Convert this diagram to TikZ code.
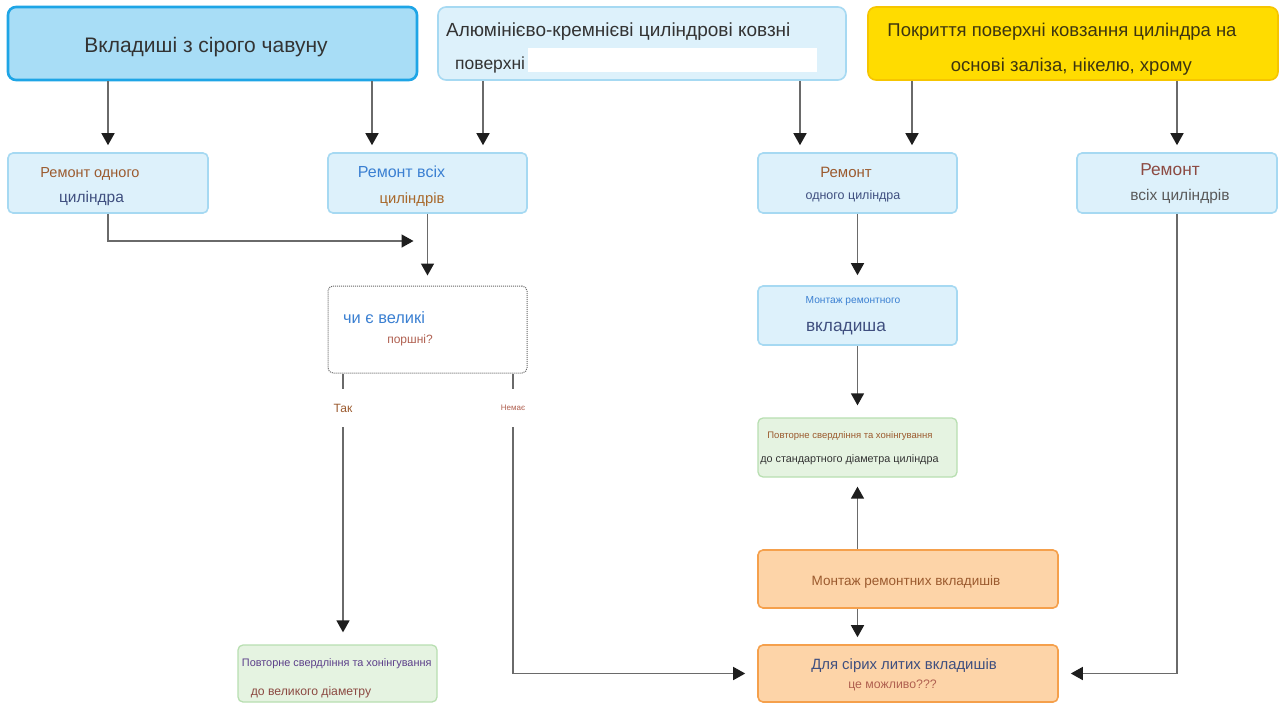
\documentclass[tikz,border=0pt]{standalone}
\usepackage{fontspec}
\setmainfont{Liberation Sans}
\usepackage{xcolor}
\usetikzlibrary{arrows.meta,positioning}

\definecolor{castfill}{HTML}{A8DDF6}
\definecolor{castline}{HTML}{1EA5E6}
\definecolor{lightfill}{HTML}{DDF1FB}
\definecolor{lightline}{HTML}{A6D9F2}
\definecolor{coatfill}{HTML}{FFDC00}
\definecolor{coatline}{HTML}{F6C500}
\definecolor{greenfill}{HTML}{E5F3E1}
\definecolor{greenline}{HTML}{B8DFB1}
\definecolor{orfill}{HTML}{FDD4A8}
\definecolor{orline}{HTML}{F5A04C}
\definecolor{linegray}{HTML}{6A6A6A}
\definecolor{tipblack}{HTML}{1E1E1E}
\definecolor{darktxt}{HTML}{333333}
\definecolor{olivetxt}{HTML}{3D3510}
\definecolor{browntxt}{HTML}{9B5A2E}
\definecolor{slatetxt}{HTML}{3F4F7F}
\definecolor{bluetxt}{HTML}{3B80D2}
\definecolor{ochretxt}{HTML}{A8682A}
\definecolor{redtxt}{HTML}{8C4A42}
\definecolor{greytxt}{HTML}{5A5A5A}
\definecolor{rosetxt}{HTML}{B06050}
\definecolor{purpletxt}{HTML}{5C3F8A}

\newcommand{\fsz}[1]{\fontsize{#1}{#1}\selectfont}

\begin{document}
\begin{tikzpicture}[x=1pt, y=-1pt,
  box/.style={draw, inner sep=0pt, line width=1.6pt},
  bigbox/.style={box, rounded corners=8pt, minimum height=73pt},
  smallbox/.style={box, rounded corners=5pt, minimum width=199pt, minimum height=59pt},
  lightbox/.style={smallbox, draw=lightline, fill=lightfill},
  greenbox/.style={smallbox, draw=greenline, fill=greenfill, line width=1.3pt},
  orbox/.style={smallbox, draw=orline, fill=orfill, minimum width=300pt, minimum height=57pt},
  txt/.style={anchor=base, inner sep=0pt},
  lbl/.style={inner sep=0pt, minimum height=38pt},
  ln/.style={draw=linegray, line width=1.5pt},
  arr/.style={ln, -{Triangle[length=12pt,width=13pt,color=tipblack]}, shorten >=7pt}]

\fill[white] (0,0) rectangle (1283,704);
\useasboundingbox (0,0) rectangle (1283,704);

% top row
\node[bigbox, draw=castline, fill=castfill, line width=2.6pt, minimum width=409pt] (cast) at (212.5,43.5) {};
\node[bigbox, draw=lightline, fill=lightfill, minimum width=408pt] (alsi) at (642,43.5) {};
\node[bigbox, draw=coatline, fill=coatfill, minimum width=410pt] (coat) at (1073,43.5) {};
\fill[white] (528,48) rectangle (817,72);

\node[txt, font=\fsz{21}, text=darktxt] (cast-t) at (206,52) {Вкладиші з сірого чавуну};
\node[txt, anchor=base west, font=\fsz{19}, text=darktxt] (alsi-t1) at (446,36) {Алюмінієво-кремнієві циліндрові ковзні};
\node[txt, anchor=base west, font=\fsz{17.5}, text=darktxt] (alsi-t2) at (455,69) {поверхні};
\node[txt, font=\fsz{18.5}, text=olivetxt] (coat-t1) at (1062,36) {Покриття поверхні ковзання циліндра на};
\node[txt, font=\fsz{18.5}, text=olivetxt] (coat-t2) at (1071.5,71) {основі заліза, нікелю, хрому};

% second row
\node[lightbox, minimum width=200pt, minimum height=60pt] (oneL) at (108,183) {};
\node[lightbox, minimum height=60pt] (allL) at (427.5,183) {};
\node[lightbox, minimum height=60pt] (oneR) at (857.5,183) {};
\node[lightbox, minimum width=200pt, minimum height=60pt] (allR) at (1177,183) {};

\node[txt, font=\fsz{14.5}, text=browntxt] (oneL-t1) at (90,177) {Ремонт одного};
\node[txt, font=\fsz{15.5}, text=slatetxt] (oneL-t2) at (91.5,202) {циліндра};
\node[txt, font=\fsz{16}, text=bluetxt] (allL-t1) at (401.5,177) {Ремонт всіх};
\node[txt, font=\fsz{14.8}, text=ochretxt] (allL-t2) at (412,203) {циліндрів};
\node[txt, font=\fsz{15}, text=browntxt] (oneR-t1) at (846,177) {Ремонт};
\node[txt, font=\fsz{12.5}, text=slatetxt] (oneR-t2) at (853,199) {одного циліндра};
\node[txt, font=\fsz{17.3}, text=redtxt] (allR-t1) at (1170,175) {Ремонт};
\node[txt, font=\fsz{15.5}, text=greytxt] (allR-t2) at (1180,200) {всіх циліндрів};

% left branch
\node[box, rounded corners=5pt, draw=gray!80!black, line width=1pt, dash pattern=on 1pt off 1pt,
  fill=white, minimum width=199pt, minimum height=87pt] (pist) at (427.5,329.5) {};
\node[txt, font=\fsz{16.4}, text=bluetxt] (pist-t1) at (384,323) {чи є великі};
\node[txt, font=\fsz{12}, text=rosetxt] (pist-t2) at (410,343) {поршні?};

\node[lbl, font=\fsz{12}, text=browntxt] (yes) at (343,408) {Так};
\node[lbl, font=\fsz{8}, text=rosetxt] (no) at (513,408) {Немає};

\node[greenbox, minimum height=57pt] (boreBig) at (337.5,673.5) {};
\node[txt, font=\fsz{10.9}, text=purpletxt] (boreBig-t1) at (336.7,666) {Повторне свердління та хонінгування};
\node[txt, font=\fsz{12.2}, text=redtxt] (boreBig-t2) at (311,695) {до великого діаметру};

% right branch
\node[lightbox] (mount) at (857.5,315.5) {};
\node[txt, font=\fsz{10.2}, text=bluetxt] (mount-t1) at (853,303) {Монтаж ремонтного};
\node[txt, font=\fsz{17.3}, text=slatetxt] (mount-t2) at (846,331.5) {вкладиша};

\node[greenbox] (boreStd) at (857.5,447.5) {};
\node[txt, font=\fsz{9.5}, text=browntxt] (boreStd-t1) at (850,438) {Повторне свердління та хонінгування};
\node[txt, font=\fsz{10.8}, text=darktxt] (boreStd-t2) at (849.5,462.5) {до стандартного діаметра циліндра};

\node[orbox, minimum height=58pt] (mountAll) at (908,579) {};
\node[txt, font=\fsz{13.5}, text=browntxt] (mountAll-t) at (906,585) {Монтаж ремонтних вкладишів};

\node[orbox] (castQ) at (908,673.5) {};
\node[txt, font=\fsz{14.9}, text=slatetxt] (castQ-t1) at (904,669) {Для сірих литих вкладишів};
\node[txt, font=\fsz{12.3}, text=rosetxt] (castQ-t2) at (892.5,688) {це можливо???};

% connectors
\coordinate (ae) at ([xshift=-55.5]allL.north);
\coordinate (be) at ([xshift=55.5]allL.north);
\coordinate (bf) at ([xshift=-57.5]oneR.north);
\coordinate (cf) at ([xshift=54.5]oneR.north);
\coordinate (join) at (427.5,241);

\draw[arr] (cast.south -| oneL) -- (oneL.north);
\draw[arr] (cast.south -| ae) -- (ae);
\draw[arr] (alsi.south -| be) -- (be);
\draw[arr] (alsi.south -| bf) -- (bf);
\draw[arr] (coat.south -| cf) -- (cf);
\draw[arr] (coat.south -| allR) -- (allR.north);

\draw[arr, shorten >=14pt] (oneL.south) |- (join);
\draw[arr, shorten >=10pt] (allL.south) -- (pist.north);

\draw[ln] (pist.south -| yes) -- (yes.north);
\draw[arr, shorten >=12pt] (yes.south) -- (boreBig.north -| yes);
\draw[ln] (pist.south -| no) -- (no.north);
\draw[arr, shorten >=12pt] (no.south) |- (castQ.west);

\draw[arr, shorten >=10pt] (oneR.south) -- (mount.north);
\draw[arr, shorten >=12pt] (mount.south) -- (boreStd.north);
\draw[arr, shorten >=9pt] (mountAll.north -| boreStd) -- (boreStd.south);
\draw[arr] (mountAll.south -| boreStd) -- (castQ.north -| boreStd);
\draw[arr, shorten >=12pt] (allR.south) |- (castQ.east);
\end{tikzpicture}
\end{document}
